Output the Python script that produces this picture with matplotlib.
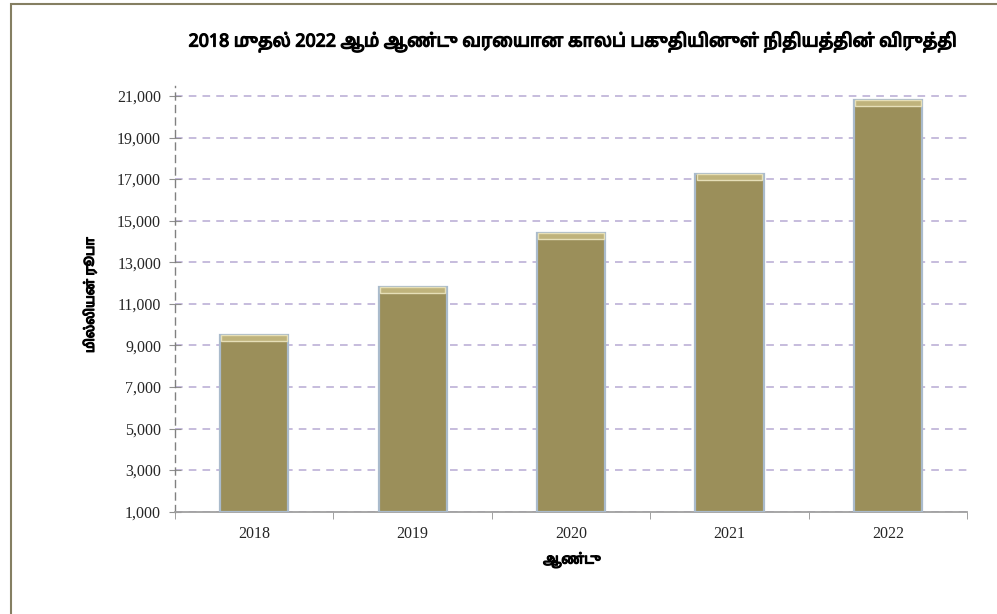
# Fund growth bar chart, 2018 - 2022 (Tamil labels)

import matplotlib
matplotlib.use('Agg')
import matplotlib.pyplot as plt
import matplotlib.patheffects as pe
from matplotlib.patches import Rectangle
from matplotlib.ticker import FuncFormatter

# Data (million rupees)
years = ['2018', '2019', '2020', '2021', '2022']
values = [9500, 11800, 14400, 17250, 20800]
y_ticks = [1000, 3000, 5000, 7000, 9000, 11000, 13000, 15000, 17000, 19000, 21000]

title = '2018 முதல் 2022 ஆம் ஆண்டு வரையான காலப் பகுதியினுள் நிதியத்தின் விருத்தி'
x_label = 'ஆண்டு'
y_label = 'மில்லியன் ரூபா'

tamil = ['Noto Sans Tamil', 'DejaVu Sans']
serif = ['Liberation Serif', 'DejaVu Serif']
# the Tamil font is variable and draws only its regular weight, so thicken it
heavy = [pe.withStroke(linewidth=0.9, foreground='black')]

fig = plt.figure(figsize=(9.97, 6.14), dpi=100)
ax = fig.add_axes([0.1755, 0.1666, 0.7945, 0.694])

# Outer frame (only top and left edges show in the picture)
fig.patches.append(Rectangle((11 / 997, -0.1), 1.2, 1 - 4 / 614 + 0.1,
                             transform=fig.transFigure, fill=False,
                             edgecolor='#857f62', linewidth=1.5))

x = list(range(len(years)))
# Bars with a pale bluish edge, then a lighter strip on top for the bevel look
ax.bar(x, [v - 1000 for v in values], bottom=1000, width=0.43,
       color='#9b8f5a', edgecolor='#aabbcc', linewidth=1.6, zorder=3)
ax.bar(x, [300] * len(values), bottom=[v - 300 for v in values], width=0.415,
       color='#bfb37c', edgecolor='#e6dfb8', linewidth=1.0, zorder=4)

ax.set_xlim(-0.5, len(years) - 0.5)
ax.set_ylim(1000, 21500)
ax.set_yticks(y_ticks)
ax.yaxis.set_major_formatter(FuncFormatter(lambda v, p: '{:,.0f}'.format(v)))
ax.set_xticks(x)
ax.set_xticklabels(years)
# x ticks sit between the categories
ax.set_xticks([i + 0.5 for i in x[:-1]] + [-0.5, len(years) - 0.5], minor=True)
ax.tick_params(axis='x', which='major', length=0, pad=10)
ax.tick_params(axis='x', which='minor', length=5, color='#909090', direction='out')
ax.tick_params(axis='y', length=8, direction='inout', color='#909090', pad=6)

for lab in ax.get_xticklabels() + ax.get_yticklabels():
    lab.set_family(serif)
    lab.set_fontsize(11.5)
    lab.set_color('#262626')

ax.grid(axis='y', color='#b7a9d3', linestyle=(0, (5, 4)), linewidth=1.1, zorder=0)
ax.set_axisbelow(True)

for side in ['top', 'right']:
    ax.spines[side].set_visible(False)
ax.spines['bottom'].set_color('#a0a0a0')
ax.spines['bottom'].set_linewidth(1.3)
ax.spines['left'].set_color('#808080')
ax.spines['left'].set_linestyle((0, (5, 4)))
ax.spines['left'].set_linewidth(1.0)

fig.text(572 / 997, 1 - 42 / 614, title, ha='center', va='center',
         family=tamil, fontsize=12.8, path_effects=heavy)
fig.text(572 / 997, 1 - 560 / 614, x_label, ha='center', va='center',
         family=tamil, fontsize=10, path_effects=heavy)
fig.text(90 / 997, 1 - 295 / 614, y_label, ha='center', va='center',
         rotation=90, family=tamil, fontsize=9.5, path_effects=heavy)

fig.savefig('out.png', dpi=100)
